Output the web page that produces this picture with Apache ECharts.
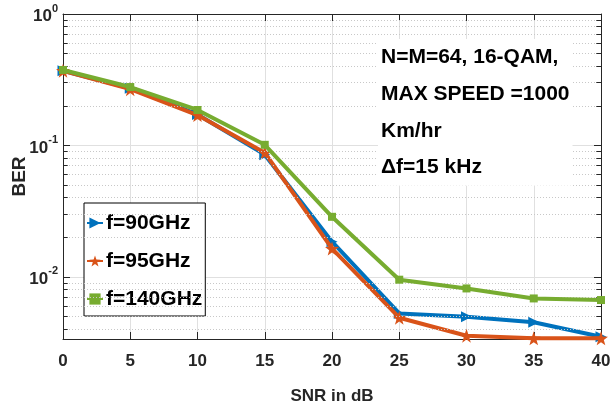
<!DOCTYPE html>
<html>
<head>
<meta charset="utf-8">
<script src="https://cdn.jsdelivr.net/npm/echarts@6/dist/echarts.min.js"></script>
<style>
  html, body { margin: 0; padding: 0; background: #fff; }
  #chart { width: 610px; height: 404px; }
</style>
</head>
<body>
<div id="chart"></div>
<script>
// SNR sweep (dB) and measured bit error rate per carrier frequency
var snr = [0, 5, 10, 15, 20, 25, 30, 35, 40];
var ber90 = [0.37, 0.272, 0.172, 0.085, 0.0185, 0.00526, 0.00497, 0.0045, 0.0035];
var ber95 = [0.37, 0.268, 0.17, 0.088, 0.0164, 0.00488, 0.00356, 0.0034, 0.0034];
var ber140 = [0.375, 0.278, 0.186, 0.101, 0.0286, 0.0095, 0.00815, 0.00684, 0.00665];
var seriesNames = ['f=90GHz', 'f=95GHz', 'f=140GHz'];
var xTicks = [0, 5, 10, 15, 20, 25, 30, 35, 40];
var annotation = ['N=M=64, 16-QAM,', 'MAX SPEED =1000', 'Km/hr', '\u0394f=15 kHz'];

var yMin = 0.00336, yMax = 1;
var xMin = xTicks[0], xMax = xTicks[xTicks.length - 1];
var colors = ['#0072BD', '#D95319', '#77AC30'];
var axisColor = '#262626';
var tickFont = "'Liberation Sans Narrow', 'Arial Narrow', 'Liberation Sans', Arial, sans-serif";

function pairs(xs, ys) {
  return xs.map(function (x, i) { return [x, ys[i]]; });
}

// minor decade values (2..9 x 10^n) for the dotted grid and small ticks
var minorVals = [];
for (var n = -3; n <= -1; n++) {
  for (var k = 2; k <= 9; k++) {
    var v = k * Math.pow(10, n);
    if (v > yMin && v < yMax) minorVals.push(v);
  }
}
var tickLen = 0.35; // in dB units along x
var minorLines = [];
minorVals.forEach(function (v) {
  minorLines.push([{ coord: [xMin, v] }, { coord: [xMax, v] }]);
});
var minorTicks = [];
minorVals.forEach(function (v) {
  minorTicks.push([{ coord: [xMin, v] }, { coord: [xMin + tickLen, v] }]);
  minorTicks.push([{ coord: [xMax - tickLen, v] }, { coord: [xMax, v] }]);
});

function decadeLabel(val) {
  var e = Math.log10(val);
  if (Math.abs(e - Math.round(e)) > 1e-6) return '';
  return '{b|10}{s|' + Math.round(e) + '}';
}

var starPath = 'path://M0,-10L2.35,-3.24L9.51,-3.09L3.8,1.24L5.88,8.09L0,4L-5.88,8.09L-3.8,1.24L-9.51,-3.09L-2.35,-3.24Z';

var chart = echarts.init(document.getElementById('chart'), null, { renderer: 'canvas' });

var option = {
  animation: false,
  backgroundColor: '#ffffff',
  grid: { left: 63, right: 9, top: 14, bottom: 65, containLabel: false, outerBoundsMode: 'none' },
  xAxis: [
    {
      type: 'value', min: xMin, max: xMax, interval: 5, position: 'bottom',
      axisLine: { show: true, onZero: false, lineStyle: { color: axisColor, width: 1 } },
      axisTick: { show: true, inside: true, length: 7, lineStyle: { color: axisColor } },
      axisLabel: { margin: 14, color: '#262626', fontSize: 17, fontWeight: 'bold', fontFamily: tickFont },
      splitLine: { show: true, lineStyle: { color: '#e0e0e0', width: 1 } },
      name: 'SNR in dB', nameLocation: 'middle', nameGap: 49, nameMoveOverlap: false,
      nameTextStyle: { color: '#262626', fontSize: 17, fontWeight: 'bold', fontFamily: 'Liberation Sans, Arial, sans-serif' }
    },
    {
      type: 'value', min: xMin, max: xMax, interval: 5, position: 'top',
      axisLine: { show: true, onZero: false, lineStyle: { color: axisColor, width: 1 } },
      axisTick: { show: true, inside: true, length: 7, lineStyle: { color: axisColor } },
      axisLabel: { show: false }, splitLine: { show: false }
    }
  ],
  yAxis: [
    {
      type: 'log', logBase: 10, min: yMin, max: yMax, position: 'left',
      axisLine: { show: true, onZero: false, lineStyle: { color: axisColor, width: 1 } },
      axisTick: { show: true, inside: true, length: 7, lineStyle: { color: axisColor } },
      axisLabel: {
        margin: 5, formatter: decadeLabel,
        rich: {
          b: { fontSize: 17, fontWeight: 'bold', color: '#262626', fontFamily: tickFont, lineHeight: 22, verticalAlign: 'bottom' },
          s: { fontSize: 11, fontWeight: 'bold', color: '#262626', fontFamily: tickFont, lineHeight: 22, verticalAlign: 'top' }
        }
      },
      splitLine: { show: true, lineStyle: { color: '#e0e0e0', width: 1 } },
      name: 'BER', nameLocation: 'middle', nameGap: 34, nameRotate: 90, nameMoveOverlap: false,
      nameTextStyle: { color: '#262626', fontSize: 19, fontWeight: 'bold', fontFamily: 'Liberation Sans, Arial, sans-serif' }
    },
    {
      type: 'log', logBase: 10, min: yMin, max: yMax, position: 'right',
      axisLine: { show: true, onZero: false, lineStyle: { color: axisColor, width: 1 } },
      axisTick: { show: true, inside: true, length: 7, lineStyle: { color: axisColor } },
      axisLabel: { show: false }, splitLine: { show: false }
    }
  ],
  legend: {
    data: seriesNames,
    orient: 'vertical',
    left: 84, top: 203,
    padding: [8, 3, 5, 2],
    itemGap: 14,
    itemWidth: 16, itemHeight: 14,
    backgroundColor: '#ffffff',
    borderColor: '#000000', borderWidth: 1, borderRadius: 0,
    textStyle: { color: '#000000', fontSize: 21, fontWeight: 'bold', lineHeight: 24, fontFamily: 'Liberation Sans, Arial, sans-serif', padding: [0, 0, 0, -2] }
  },
  graphic: [
    {
      type: 'text', left: 378, top: 39, z: 50,
      style: {
        text: annotation.join('\n'),
        fill: '#000000',
        font: 'bold 21px "Liberation Sans", Arial, sans-serif',
        lineHeight: 36.7,
        backgroundColor: '#ffffff',
        padding: [0, 3, 0, 3]
      }
    }
  ],
  series: [
    {
      // carrier for the minor grid and minor ticks; its own line is hidden
      name: 'minor-grid', type: 'line', data: pairs(snr, ber140), silent: true,
      symbol: 'none', lineStyle: { opacity: 0 }, z: 1,
      markLine: {
        silent: true, symbol: ['none', 'none'], label: { show: false },
        animation: false,
        lineStyle: { color: '#c8c8c8', type: [1, 2], width: 1 },
        emphasis: { disabled: true },
        data: minorLines
      }
    },
    {
      name: 'minor-ticks', type: 'line', data: pairs(snr, ber140), silent: true,
      symbol: 'none', lineStyle: { opacity: 0 }, z: 6,
      markLine: {
        silent: true, symbol: ['none', 'none'], label: { show: false },
        animation: false,
        lineStyle: { color: axisColor, type: 'solid', width: 1 },
        emphasis: { disabled: true },
        data: minorTicks
      }
    },
    {
      name: seriesNames[0], type: 'line', data: pairs(snr, ber90), clip: false,
      symbol: 'triangle', symbolRotate: -90, symbolSize: 11,
      lineStyle: { color: colors[0], width: 4 },
      itemStyle: { color: colors[0] }, z: 3
    },
    {
      name: seriesNames[1], type: 'line', data: pairs(snr, ber95), clip: false,
      symbol: starPath, symbolSize: 14,
      lineStyle: { color: colors[1], width: 4 },
      itemStyle: { color: colors[1] }, z: 4
    },
    {
      name: seriesNames[2], type: 'line', data: pairs(snr, ber140), clip: false,
      symbol: 'rect', symbolSize: 8,
      lineStyle: { color: colors[2], width: 4 },
      itemStyle: { color: colors[2] }, z: 5
    }
  ]
};

chart.setOption(option);
</script>
</body>
</html>
